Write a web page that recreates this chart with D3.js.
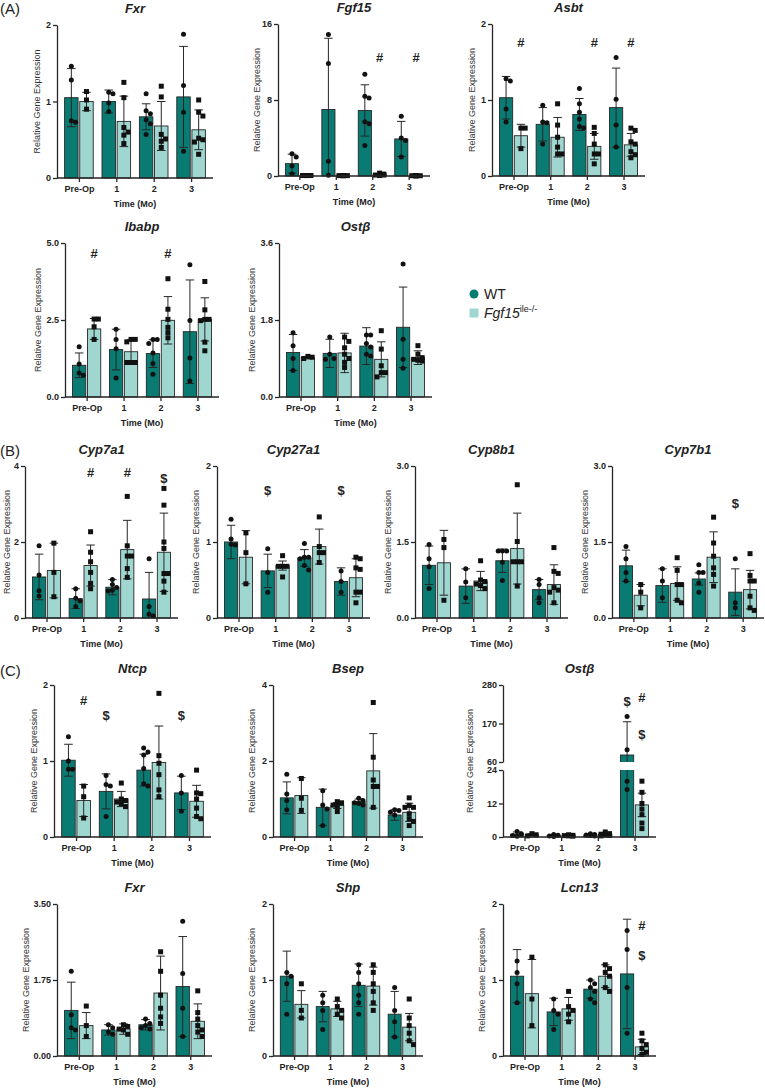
<!DOCTYPE html>
<html><head><meta charset="utf-8">
<script src="https://cdn.jsdelivr.net/npm/d3@7"></script>
<style>body{margin:0;background:#fff}svg{display:block}</style>
</head><body>
<svg id="c" width="765" height="1089"></svg>
<script>
const categories = ["Pre-Op","1","2","3"];
const seriesNames = ["WT","Fgf15"];

// (A) Fxr
const fxrA_ticks = [0,1,2];
const fxrA_mean = [[1.05,1.00,0.80,1.06],[1.00,0.74,0.68,0.63]];
const fxrA_sd = [[0.38,0.15,0.17,0.66],[0.12,0.33,0.32,0.26]];
const fxrA_pts = [
 [[1.46,1.28,0.75,0.73],[1.12,1.10,0.98,0.87],[1.10,0.88,0.84,0.76,0.71,0.57],[1.88,1.21,0.86,0.35]],
 [[1.13,1.02,0.90],[1.25,1.05,0.66,0.60,0.56,0.45],[1.20,1.06,0.57,0.51,0.48,0.40],[1.02,0.86,0.81,0.52,0.50,0.47,0.31]]];
const fxrA_marks = [];

// (A) Fgf15
const fgf15_ticks = [0,8,16];
const fgf15_mean = [[1.3,7.0,6.9,3.9],[0.05,0.04,0.15,0.03]];
const fgf15_sd = [[1.0,7.5,2.7,1.85],[0.03,0.02,0.1,0.02]];
const fgf15_pts = [
 [[2.35,2.0,1.05,0.25],[14.9,11.85,1.55,0.07],[10.7,8.4,8.2,5.7,5.5,3.2],[6.3,4.0,3.75,2.0]],
 [[0.05,0.05,0.05,0.05,0.05],[0.04,0.04,0.04,0.04,0.04],[0.3,0.2,0.1,0.1,0.1,0.05],[0.03,0.03,0.03,0.03,0.03,0.03]]];
const fgf15_marks = [{g:2,s:1,t:"#",v:12.5},{g:3,s:1,t:"#",v:12.5}];

// (A) Asbt
const asbt_ticks = [0,1,2];
const asbt_mean = [[1.03,0.68,0.81,0.90],[0.53,0.51,0.39,0.41]];
const asbt_sd = [[0.28,0.22,0.21,0.52],[0.15,0.26,0.17,0.15]];
const asbt_pts = [
 [[1.28,1.25,0.88,0.71],[0.93,0.71,0.70,0.42],[1.15,0.95,0.84,0.75,0.65,0.63],[1.56,1.01,0.67,0.38]],
 [[0.63,0.63,0.36],[0.95,0.67,0.51,0.38,0.29,0.29],[0.64,0.56,0.42,0.29,0.29,0.16],[0.63,0.60,0.45,0.42,0.32,0.28,0.24]]];
const asbt_marks = [{g:0,s:1,t:"#",v:1.76},{g:2,s:1,t:"#",v:1.76},{g:3,s:1,t:"#",v:1.76}];

// (A) Ibabp
const ibabp_ticks = [0,2.5,5];
const ibabp_mean = [[1.03,1.54,1.41,2.12],[2.21,1.47,2.49,2.52]];
const ibabp_sd = [[0.40,0.66,0.45,1.68],[0.34,0.39,0.77,0.70]];
const ibabp_pts = [
 [[1.63,1.07,0.78,0.71],[2.2,1.87,1.57,0.62],[1.87,1.87,1.74,1.43,1.09,0.74],[4.29,2.48,1.27,0.52]],
 [[2.53,2.53,2.28,1.87],[1.87,1.87,1.79,1.12,1.12,1.12],[3.84,2.85,2.52,2.26,2.09,1.92],[3.75,2.83,2.52,2.52,2.48,1.78,1.50]]];
const ibabp_marks = [{g:0,s:1,t:"#",v:4.68},{g:2,s:1,t:"#",v:4.68}];

// (A) Ostβ
const ostbA_ticks = [0,1.8,3.6];
const ostbA_mean = [[1.04,1.02,1.19,1.63],[0.92,1.03,0.88,0.92]];
const ostbA_sd = [[0.42,0.33,0.43,0.94],[0.03,0.46,0.41,0.16]];
const ostbA_pts = [
 [[1.5,1.2,0.9,0.62],[1.40,1.0,0.9,0.88],[1.45,1.45,1.25,1.17,1.0,0.96],[3.11,1.35,0.88,0.67]],
 [[0.95,0.93,0.90],[1.40,1.30,1.15,1.0,0.90,0.81,0.69],[1.55,1.12,0.73,0.57,0.57,0.47],[1.2,1.0,0.92,0.88,0.86,0.84]]];
const ostbA_marks = [];

// (B) Cyp7a1
const cyp7a1_ticks = [0,2,4];
const cyp7a1_mean = [[1.08,0.51,0.81,0.5],[1.25,1.38,1.8,1.73]];
const cyp7a1_sd = [[0.6,0.26,0.2,0.7],[0.72,0.54,0.77,1.03]];
const cyp7a1_pts = [
 [[1.9,1.13,0.72,0.58],[0.77,0.52,0.45,0.3],[1.01,0.88,0.80,0.73,0.71],[1.56,0.3,0.1,0.05]],
 [[1.97,1.2,0.56],[2.27,1.73,1.48,1.2,0.91,0.77],[3.2,1.9,1.63,1.63,1.3,1.07],[3.41,2.97,2.0,1.83,1.17,1.17,0.97,0.68]]];
const cyp7a1_marks = [{g:1,s:1,t:"#",v:3.84},{g:2,s:1,t:"#",v:3.84},{g:3,s:1,t:"$",v:3.68}];

// (B) Cyp27a1
const cyp27a1_ticks = [0,1,2];
const cyp27a1_mean = [[1.0,0.62,0.79,0.48],[0.80,0.69,0.94,0.53]];
const cyp27a1_sd = [[0.22,0.22,0.11,0.18],[0.35,0.06,0.23,0.25]];
const cyp27a1_pts = [
 [[1.30,1.04,0.97,0.96],[0.91,0.6,0.34],[0.98,0.8,0.8,0.78,0.69,0.63],[0.62,0.48,0.34]],
 [[1.12,0.86,0.45],[0.82,0.68,0.68,0.68,0.54],[1.33,0.94,0.86,0.86,0.73],[0.80,0.78,0.66,0.64,0.34,0.34,0.2]]];
const cyp27a1_marks = [{g:1,s:0,t:"$",v:1.68},{g:3,s:0,t:"$",v:1.68}];

// (B) Cyp8b1
const cyp8b1_ticks = [0,1.5,3];
const cyp8b1_mean = [[1.04,0.63,1.13,0.56],[1.09,0.73,1.37,0.66]];
const cyp8b1_sd = [[0.38,0.34,0.23,0.2],[0.64,0.19,0.70,0.39]];
const cyp8b1_pts = [
 [[1.45,1.17,1.01,0.58],[0.97,0.71,0.4],[1.32,1.32,1.32,1.10,0.74],[0.76,0.66,0.4,0.3]],
 [[1.55,1.39,0.35],[1.13,0.75,0.72,0.67,0.64,0.58],[2.63,1.51,1.11,1.11,1.11,0.63],[1.39,0.92,0.88,0.6,0.55,0.51,0.3]]];
const cyp8b1_marks = [];

// (B) Cyp7b1
const cyp7b1_ticks = [0,1.5,3];
const cyp7b1_mean = [[1.03,0.64,0.77,0.51],[0.45,0.68,1.2,0.56]];
const cyp7b1_sd = [[0.31,0.33,0.12,0.46],[0.21,0.33,0.5,0.38]];
const cyp7b1_pts = [
 [[1.41,1.17,0.9,0.73],[0.97,0.73,0.4],[1.05,0.9,0.9,0.69,0.51],[1.17,0.3,0.2]],
 [[0.66,0.51,0.2],[1.19,0.94,0.66,0.66,0.35,0.3],[1.99,1.48,1.22,0.99,0.86,0.63],[1.27,0.84,0.73,0.73,0.43,0.2,0.15]]];
const cyp7b1_marks = [{g:3,s:0,t:"$",v:2.27}];

// (C) Ntcp
const ntcp_ticks = [0,1,2];
const ntcp_mean = [[1.01,0.6,0.88,0.58],[0.48,0.5,0.98,0.47]];
const ntcp_sd = [[0.21,0.23,0.21,0.22],[0.21,0.1,0.48,0.21]];
const ntcp_pts = [
 [[1.32,1.0,0.89,0.89],[0.81,0.69,0.67,0.27],[1.17,1.12,1.08,0.9,0.7,0.67],[0.81,0.58,0.34]],
 [[0.67,0.53,0.25],[0.71,0.5,0.48,0.46,0.44,0.4],[1.89,1.07,0.97,0.82,0.62,0.53],[0.88,0.58,0.57,0.5,0.38,0.27,0.24]]];
const ntcp_marks = [{g:0,s:1,t:"#",v:1.8},{g:1,s:0,t:"$",v:1.6},{g:3,s:0,t:"$",v:1.6}];

// (C) Bsep
const bsep_ticks = [0,2,4];
const bsep_mean = [[1.03,0.78,0.93,0.58],[1.09,0.83,1.74,0.65]];
const bsep_sd = [[0.42,0.48,0.07,0.14],[0.47,0.08,0.98,0.24]];
const bsep_pts = [
 [[1.65,1.13,0.96,0.72],[1.22,0.84,0.74,0.30],[1.02,0.96,0.9,0.88,0.84],[0.72,0.70,0.65,0.58]],
 [[1.54,1.02,0.70],[0.93,0.9,0.84,0.81,0.67],[3.54,2.10,1.5,1.33,1.33,0.78],[1.03,0.83,0.78,0.78,0.61,0.48,0.41,0.30]]];
const bsep_marks = [];

// (C) Ostβ (broken axis)
const ostbC_lowTicks = [0,12,24];
const ostbC_highTicks = [60,170,280];
const ostbC_mean = [[1.0,0.6,0.7,80],[0.8,0.5,1.0,11.5]];
const ostbC_sd = [[0.8,0.3,0.4,95],[0.4,0.2,0.5,4.2]];
const ostbC_pts = [
 [[2.0,1.2,0.5,0.3],[0.9,0.6,0.4,0.2],[1.2,0.9,0.7,0.5,0.4],[190,95,20,17]],
 [[1.2,0.8,0.4],[0.8,0.6,0.5,0.4,0.3],[1.8,1.2,1.0,0.8,0.6,0.4],[20,16,12,10,8,5,3]]];
const ostbC_marks = [{g:3,s:0,t:"$",v:235},{g:3,s:1,t:"#",v:245},{g:3,s:1,t:"$",v:140}];

// (C) Fxr
const fxrC_ticks = [0,1.75,3.5];
const fxrC_mean = [[1.05,0.6,0.72,1.6],[0.7,0.62,1.45,0.8]];
const fxrC_sd = [[0.65,0.12,0.12,1.15],[0.3,0.12,0.85,0.4]];
const fxrC_pts = [
 [[1.95,0.95,0.65,0.6],[0.72,0.65,0.55,0.5],[0.85,0.75,0.7,0.65,0.62],[3.1,1.9,1.1,0.45]],
 [[1.15,0.7,0.45],[0.72,0.68,0.62,0.6,0.5],[2.4,1.95,1.4,1.1,0.9,0.75],[1.5,1.0,0.85,0.7,0.6,0.55,0.45]]];
const fxrC_marks = [];

// (C) Shp
const shp_ticks = [0,1,2];
const shp_mean = [[1.05,0.65,0.93,0.55],[0.68,0.62,0.92,0.38]];
const shp_sd = [[0.33,0.2,0.28,0.3],[0.18,0.1,0.25,0.18]];
const shp_pts = [
 [[1.1,1.05,0.95,0.55],[0.8,0.7,0.6,0.35],[1.2,1.1,0.95,0.8,0.7,0.55],[0.9,0.6,0.45,0.25]],
 [[0.95,0.6,0.5],[0.75,0.65,0.6,0.55,0.5],[1.2,1.1,0.95,0.85,0.7,0.6],[0.75,0.5,0.4,0.3,0.2,0.15]]];
const shp_marks = [];

// (C) Lcn13
const lcn13_ticks = [0,1,2];
const lcn13_mean = [[1.05,0.58,0.88,1.08],[0.82,0.62,1.05,0.12]];
const lcn13_sd = [[0.35,0.18,0.12,0.72],[0.45,0.15,0.15,0.1]];
const lcn13_pts = [
 [[1.25,1.1,0.95,0.7],[0.75,0.6,0.55,0.35],[1.0,0.95,0.9,0.85,0.75,0.7],[1.65,1.4,0.9,0.3]],
 [[1.3,0.75,0.4],[0.85,0.65,0.6,0.55,0.45],[1.2,1.15,1.1,1.05,0.9,0.85],[0.3,0.2,0.15,0.1,0.05,0.02]]];
const lcn13_marks = [{g:3,s:1,t:"#",v:1.72},{g:3,s:1,t:"$",v:1.33}];

// ---------- layout ----------
const WT_COL = "#0a7b72", KO_COL = "#9fd7d0", INK = "#262626";
const FONT = "'Liberation Sans', Arial, Helvetica, sans-serif";
const svg = d3.select("#c");

function lin(ticks, yBot, yTop){ return [{domain:[ticks[0], ticks[ticks.length-1]], range:[yBot,yTop], ticks}]; }

const panels = [
 {title:"Fxr", m:fxrA_mean, s:fxrA_sd, p:fxrA_pts, marks:fxrA_marks, fmt:"d", lab:20, x0:57, x1:213, segs:lin(fxrA_ticks,178,25)},
 {title:"Fgf15", m:fgf15_mean, s:fgf15_sd, p:fgf15_pts, marks:fgf15_marks, fmt:"d", lab:21, x0:278, x1:430, segs:lin(fgf15_ticks,176,24)},
 {title:"Asbt", m:asbt_mean, s:asbt_sd, p:asbt_pts, marks:asbt_marks, fmt:"d", lab:20, x0:492, x1:645, segs:lin(asbt_ticks,176,24)},
 {title:"Ibabp", m:ibabp_mean, s:ibabp_sd, p:ibabp_pts, marks:ibabp_marks, fmt:".1f", lab:27, x0:65, x1:219, segs:lin(ibabp_ticks,397,243)},
 {title:"Ostβ", m:ostbA_mean, s:ostbA_sd, p:ostbA_pts, marks:ostbA_marks, fmt:".1f", lab:27, x0:279, x1:432, segs:lin(ostbA_ticks,397,243)},
 {title:"Cyp7a1", m:cyp7a1_mean, s:cyp7a1_sd, p:cyp7a1_pts, marks:cyp7a1_marks, fmt:"d", lab:18, x0:25, x1:178, segs:lin(cyp7a1_ticks,618,466)},
 {title:"Cyp27a1", m:cyp27a1_mean, s:cyp27a1_sd, p:cyp27a1_pts, marks:cyp27a1_marks, fmt:"d", lab:21, x0:217, x1:370, segs:lin(cyp27a1_ticks,618,466)},
 {title:"Cyp8b1", m:cyp8b1_mean, s:cyp8b1_sd, p:cyp8b1_pts, marks:cyp8b1_marks, fmt:".1f", lab:27, x0:415, x1:568, segs:lin(cyp8b1_ticks,618,466)},
 {title:"Cyp7b1", m:cyp7b1_mean, s:cyp7b1_sd, p:cyp7b1_pts, marks:cyp7b1_marks, fmt:".1f", lab:27, x0:612, x1:764, segs:lin(cyp7b1_ticks,618,466)},
 {title:"Ntcp", m:ntcp_mean, s:ntcp_sd, p:ntcp_pts, marks:ntcp_marks, fmt:"d", lab:20, x0:54, x1:211, segs:lin(ntcp_ticks,837,685)},
 {title:"Bsep", m:bsep_mean, s:bsep_sd, p:bsep_pts, marks:bsep_marks, fmt:"d", lab:21, x0:273, x1:423, segs:lin(bsep_ticks,837,685)},
 {title:"Ostβ", m:ostbC_mean, s:ostbC_sd, p:ostbC_pts, marks:ostbC_marks, fmt:"d", lab:33, x0:503, x1:656,
   segs:[{domain:[0,24], range:[837,770], ticks:ostbC_lowTicks},{domain:[60,280], range:[762,685], ticks:ostbC_highTicks}]},
 {title:"Fxr", m:fxrC_mean, s:fxrC_sd, p:fxrC_pts, marks:fxrC_marks, fmt:".2f", lab:31, x0:57, x1:212, segs:lin(fxrC_ticks,1056,904)},
 {title:"Shp", m:shp_mean, s:shp_sd, p:shp_pts, marks:shp_marks, fmt:"d", lab:21, x0:273, x1:423, segs:lin(shp_ticks,1056,904)},
 {title:"Lcn13", m:lcn13_mean, s:lcn13_sd, p:lcn13_pts, marks:lcn13_marks, fmt:"d", lab:21, x0:503, x1:656, segs:lin(lcn13_ticks,1056,904)}
];

function swarm(vals, ys, cx, maxHalf, r){
  const items = vals.map(v => ({v, y: ys(v)})).sort((a,b) => a.y - b.y);
  const placed = [];
  const d = r * 1.7;
  items.forEach(it => {
    const cands = [0];
    for (let k = 1; k * d <= maxHalf + 0.01; k++) { cands.push(k*d, -k*d); }
    let best = null, bestScore = -Infinity;
    for (const o of cands) {
      let minD = Infinity;
      placed.forEach(q => { minD = Math.min(minD, Math.hypot(q.x - (cx+o), q.y - it.y)); });
      if (minD >= 2*r*0.95) { best = o; break; }
      if (minD > bestScore) { bestScore = minD; best = o; }
    }
    it.x = cx + best;
    placed.push(it);
  });
  return items;
}

let clipId = 0;
function drawPanel(P){
  const g = svg.append("g");
  const x = d3.scalePoint().domain(categories).range([P.x0, P.x1]).padding(0.586);
  const step = x.step();
  const bw = step * 0.36, gap = step * 0.045;
  const barX = (gi, si) => si === 0 ? x(categories[gi]) - gap/2 - bw : x(categories[gi]) + gap/2;
  const segs = P.segs;
  segs.forEach(s => s.scale = d3.scaleLinear().domain(s.domain).range(s.range));
  const yBot = segs[0].range[0], yTop = segs[segs.length-1].range[1];
  const broken = segs.length > 1;
  const yAny = v => { for (const s of segs) if (v <= s.domain[1]) return s.scale(Math.max(v, s.domain[0])); return segs[segs.length-1].scale(v); };

  segs.forEach((s, si) => {
    let layer = g.append("g");
    if (broken) {
      const id = "clip" + (clipId++);
      const top = si === segs.length-1 ? s.range[1] - 40 : s.range[1];
      g.append("clipPath").attr("id", id).append("rect")
        .attr("x", P.x0 - 1).attr("y", top).attr("width", P.x1 - P.x0 + 2).attr("height", s.range[0] - top + (si === 0 ? 5 : 0));
      layer.attr("clip-path", `url(#${id})`);
    }
    const y = s.scale;
    [0,1].forEach(si2 => {
      const col = si2 === 0 ? WT_COL : KO_COL;
      categories.forEach((c, gi) => {
        const m = P.m[si2][gi];
        const y0 = si === 0 ? y(0) : s.range[0] + 2;
        layer.append("rect").attr("x", barX(gi, si2)).attr("width", bw)
          .attr("y", Math.min(y(m), y0)).attr("height", Math.max(0, y0 - y(m)))
          .attr("fill", col).attr("stroke", INK).attr("stroke-width", 0.9);
      });
    });
    [0,1].forEach(si2 => {
      categories.forEach((c, gi) => {
        const m = P.m[si2][gi], sd = P.s[si2][gi];
        const cx = barX(gi, si2) + bw/2;
        const lo = Math.max(0, m - sd), hi = m + sd;
        const capW = bw * 0.32;
        layer.append("line").attr("x1", cx).attr("x2", cx).attr("y1", y(lo)).attr("y2", y(hi))
          .attr("stroke", INK).attr("stroke-width", 1);
        layer.append("line").attr("x1", cx - capW).attr("x2", cx + capW).attr("y1", y(hi)).attr("y2", y(hi))
          .attr("stroke", INK).attr("stroke-width", 1);
        if (m - sd > 0) layer.append("line").attr("x1", cx - capW).attr("x2", cx + capW).attr("y1", y(lo)).attr("y2", y(lo))
          .attr("stroke", INK).attr("stroke-width", 1);
      });
    });
    [0,1].forEach(si2 => {
      categories.forEach((c, gi) => {
        const cx = barX(gi, si2) + bw/2;
        const r = 2.5;
        const pts = swarm(P.p[si2][gi], y, cx, bw/2 - 1.5, r);
        pts.forEach(pt => {
          if (si2 === 0) layer.append("circle").attr("cx", pt.x).attr("cy", pt.y).attr("r", r).attr("fill", "#111");
          else layer.append("rect").attr("x", pt.x - r).attr("y", pt.y - r).attr("width", 2*r).attr("height", 2*r).attr("fill", "#111");
        });
      });
    });
    const ax = g.append("g").attr("transform", `translate(${P.x0},0)`)
      .call(d3.axisLeft(y).tickValues(s.ticks).tickSize(4).tickSizeOuter(0)
        .tickFormat(P.fmt === "d" ? d3.format("d") : d3.format(P.fmt)));
    ax.select(".domain").attr("stroke", INK).attr("stroke-width", 1.3);
    ax.selectAll(".tick line").attr("stroke", INK).attr("stroke-width", 1.3);
    ax.selectAll(".tick text").attr("font-family", FONT).attr("font-size", 9).attr("font-weight", "bold").attr("fill", "#222").attr("x", -6);
  });

  const xa = g.append("g").attr("transform", `translate(0,${yBot})`)
    .call(d3.axisBottom(x).tickSize(4).tickSizeOuter(0));
  xa.select(".domain").attr("stroke", INK).attr("stroke-width", 1.3).attr("d", `M${P.x0},0H${P.x1}`);
  xa.selectAll(".tick line").attr("stroke", INK).attr("stroke-width", 1.3);
  xa.selectAll(".tick text").attr("font-family", FONT).attr("font-size", 9).attr("font-weight", "bold").attr("fill", "#222").attr("y", 8);

  const midX = (P.x0 + P.x1) / 2;
  g.append("text").attr("x", midX).attr("y", yBot + 29).attr("text-anchor", "middle")
    .attr("font-family", FONT).attr("font-size", 9).attr("font-weight", "bold").attr("fill", "#222").text("Time (Mo)");
  g.append("text").attr("transform", `translate(${P.x0 - P.lab + 3},${(yTop + yBot)/2}) rotate(-90)`).attr("text-anchor", "middle")
    .attr("font-family", FONT).attr("font-size", 9).attr("fill", "#333").text("Relative Gene Expression");
  g.append("text").attr("x", midX).attr("y", yTop - 12).attr("text-anchor", "middle")
    .attr("font-family", FONT).attr("font-size", 13).attr("font-weight", "bold").attr("font-style", "italic").attr("fill", "#222").text(P.title);

  P.marks.forEach(mk => {
    g.append("text").attr("x", barX(mk.g, mk.s) + bw/2).attr("y", yAny(mk.v) + 5).attr("text-anchor", "middle")
      .attr("font-family", FONT).attr("font-size", 13).attr("font-weight", "bold").attr("fill", "#222").text(mk.t);
  });
}

panels.forEach(drawPanel);

[["(A)",14],["(B)",456],["(C)",676]].forEach(([t,yy]) => {
  svg.append("text").attr("x", 0).attr("y", yy).attr("font-family", FONT).attr("font-size", 15).attr("fill", "#222").text(t);
});

const lg = svg.append("g");
lg.append("circle").attr("cx", 474).attr("cy", 294).attr("r", 4.5).attr("fill", WT_COL);
lg.append("text").attr("x", 484).attr("y", 299).attr("font-family", FONT).attr("font-size", 14).attr("fill", "#222").text(seriesNames[0]);
lg.append("rect").attr("x", 469.5).attr("y", 308.5).attr("width", 9).attr("height", 9).attr("fill", KO_COL);
const t2 = lg.append("text").attr("x", 484).attr("y", 318).attr("font-family", FONT).attr("font-size", 14).attr("fill", "#222");
t2.append("tspan").attr("font-style", "italic").text(seriesNames[1]);
t2.append("tspan").attr("font-size", 9).attr("dy", -6).text("ile-/-");
</script>
</body></html>
